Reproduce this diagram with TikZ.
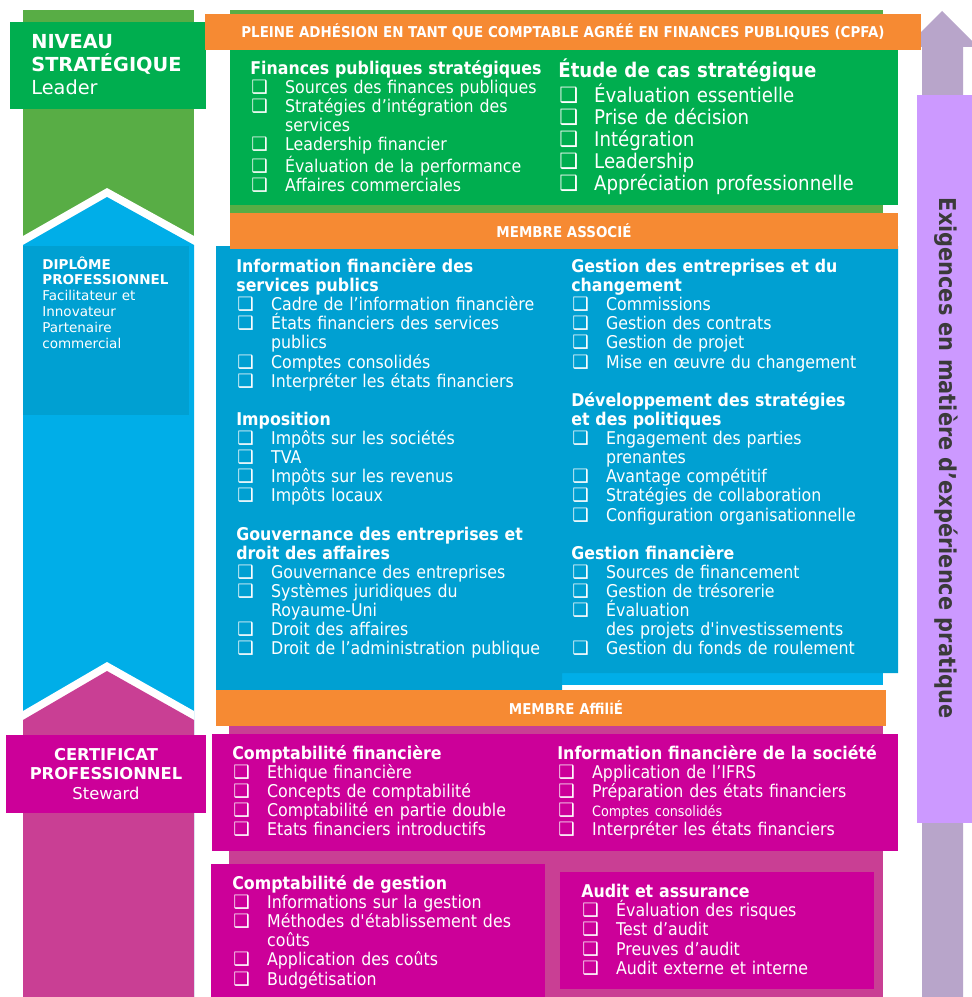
\documentclass[tikz,border=0pt]{standalone}
\usepackage{fontspec}
\setmainfont[FakeStretch=0.9]{DejaVu Sans}
\newfontfamily\vfont{DejaVu Sans}
\newfontfamily\symfont{DejaVu Sans}
\usetikzlibrary{positioning}

\definecolor{cpfaorange}{HTML}{F68A33}
\definecolor{nivgreen}{HTML}{00AE4F}
\definecolor{ribgreen}{HTML}{58AD45}
\definecolor{panblue}{HTML}{00A0D2}
\definecolor{ribblue}{HTML}{00AEE8}
\definecolor{ribmag}{HTML}{C93F94}
\definecolor{panmag}{HTML}{CC0099}
\definecolor{arrowlav}{HTML}{B8A5CA}
\definecolor{expurple}{HTML}{CC99FF}
\definecolor{exgray}{HTML}{3A3A3A}

\newlength\itind
\setlength\itind{19.8pt}
\newcommand\chksize{10.5pt}
\newcommand\chk{{\symfont\fontsize{\chksize}{\chksize}\selectfont ❑}}
\newcommand\hd[1]{{\bfseries #1}\par}
\newcommand\itm[1]{\hangindent=\itind\hangafter=1\makebox[\itind][l]{\hspace{0.6pt}\chk}#1\par}
\newcommand\gap{\vspace{\baselineskip}}

\begin{document}
\begin{tikzpicture}[x=0.02cm,y=-0.02cm,
    col/.style={anchor=base west,inner sep=0pt,text=white,text width=200pt,align=left,
                font=\fontsize{10}{10.88}\selectfont},
    bigcol/.style={col,font=\fontsize{11.5}{12.6}\selectfont\renewcommand\chksize{12pt}\setlength\itind{20.4pt}},
    bar/.style={inner sep=0pt,text=white,font=\bfseries\fontsize{8.5}{10}\selectfont},
    lvl/.style={anchor=base west,inner sep=0pt,text=white,text width=170pt,align=left}]
    \useasboundingbox (0,0) rectangle (971,997);
    \fill[white] (0,0) rectangle (971,997);

    \fill[ribgreen] (23,10) rectangle (194,250);
    \fill[white] (23,236) -- (107,188) -- (194,236) -- (194,997) -- (23,997) -- cycle;
    \fill[ribblue] (23,245) -- (107,197) -- (194,245) -- (194,997) -- (23,997) -- cycle;
    \fill[white] (23,711) -- (107,662) -- (194,711) -- (194,997) -- (23,997) -- cycle;
    \fill[ribmag] (23,720) -- (107,671) -- (194,720) -- (194,997) -- (23,997) -- cycle;
    \fill[nivgreen] (10,22) rectangle (206,109);
    \fill[panblue] (23,246) rectangle (189,415);
    \fill[panmag] (6,735) rectangle (206,813);

    \fill[arrowlav] (922,997) -- (922,47) -- (906,47) -- (942,11) -- (978,47) -- (963,47) -- (963,997) -- cycle;
    \fill[expurple] (917,95) rectangle (975,823);

    \fill[ribgreen] (230,10) rectangle (883,213);
    \fill[ribblue] (562,672) rectangle (883,685);
    \fill[panblue] (216,246) -- (898,246) -- (898,673) -- (562,673) -- (562,690) -- (216,690) -- cycle;
    \fill[ribmag] (229,726) rectangle (883,997);
    \fill[nivgreen] (230,49) rectangle (898,205);
    \fill[cpfaorange] (205,14) rectangle (921,50);
    \fill[cpfaorange] (230,213) rectangle (898,249);
    \fill[cpfaorange] (216,690) rectangle (886,726);
    \fill[panmag] (212,734) rectangle (898,851);
    \fill[panmag] (211,864) rectangle (545,997);
    \fill[panmag] (560,872) rectangle (874,989);

    \node[lvl,font=\vfont\fontsize{11}{13}\selectfont] (niveau) at (31,49)
      {\textbf{NIVEAU}\\\textbf{STRATÉGIQUE}\\Leader};
    \node[lvl,font=\vfont\fontsize{7.7}{9.07}\selectfont] (diplome) at (42,269)
      {\textbf{DIPLÔME}\\\textbf{PROFESSIONNEL}\\Facilitateur et\\Innovateur\\Partenaire\\commercial};
    \node[lvl,anchor=base,text width=113pt,align=center,font=\vfont\fontsize{9.3}{11.3}\selectfont] (certif) at (106,760)
      {\textbf{CERTIFICAT}\\\textbf{PROFESSIONNEL}\\Steward};

    \node[bar] (cpfa) at (563,32) {PLEINE ADHÉSION EN TANT QUE COMPTABLE AGRÉÉ EN FINANCES PUBLIQUES (CPFA)};
    \node[bar] (associe) at (564,231) {MEMBRE ASSOCIÉ};
    \node[bar] (affilie) at (566,708) {MEMBRE AffiliÉ};

    \node[col] (finpub) at (250,74.5) {\hd{Finances publiques stratégiques}
      \itm{Sources des finances publiques}
      \itm{Stratégies d’intégration des\newline services}
      \itm{Leadership financier}
      \itm{Évaluation de la performance}
      \itm{Affaires commerciales}};
    \node[bigcol] (etude) at (558,77.5) {\hd{Étude de cas stratégique}
      \itm{Évaluation essentielle}
      \itm{Prise de décision}
      \itm{Intégration}
      \itm{Leadership}
      \itm{Appréciation professionnelle}};

    \node[col] (infofin) at (236,272.5) {\hd{Information financière des\newline services publics}
      \itm{Cadre de l’information financière}
      \itm{États financiers des services\newline publics}
      \itm{Comptes consolidés}
      \itm{Interpréter les états financiers}
      \gap
      \hd{Imposition}
      \itm{Impôts sur les sociétés}
      \itm{TVA}
      \itm{Impôts sur les revenus}
      \itm{Impôts locaux}
      \gap
      \hd{Gouvernance des entreprises et\newline droit des affaires}
      \itm{Gouvernance des entreprises}
      \itm{Systèmes juridiques du\newline Royaume-Uni}
      \itm{Droit des affaires}
      \itm{Droit de l’administration publique}};
    \node[col] (gestent) at (571,272.5) {\hd{Gestion des entreprises et du\newline changement}
      \itm{Commissions}
      \itm{Gestion des contrats}
      \itm{Gestion de projet}
      \itm{Mise en œuvre du changement}
      \gap
      \hd{Développement des stratégies\newline et des politiques}
      \itm{Engagement des parties\newline prenantes}
      \itm{Avantage compétitif}
      \itm{Stratégies de collaboration}
      \itm{Configuration organisationnelle}
      \gap
      \hd{Gestion financière}
      \itm{Sources de financement}
      \itm{Gestion de trésorerie}
      \itm{Évaluation\newline des projets d\textquotesingle investissements}
      \itm{Gestion du fonds de roulement}};

    \node[col] (comptafin) at (232,759.5) {\hd{Comptabilité financière}
      \itm{Ethique financière}
      \itm{Concepts de comptabilité}
      \itm{Comptabilité en partie double}
      \itm{Etats financiers introductifs}};
    \node[col] (infosoc) at (557,759.5) {\hd{Information financière de la société}
      \itm{Application de l’IFRS}
      \itm{Préparation des états financiers}
      \itm{{\fontsize{8.1}{10.88}\selectfont Comptes consolidés}}
      \itm{Interpréter les états financiers}};
    \node[col] (comptages) at (232,889.5) {\hd{Comptabilité de gestion}
      \itm{Informations sur la gestion}
      \itm{Méthodes d\textquotesingle établissement des\newline coûts}
      \itm{Application des coûts}
      \itm{Budgétisation}};
    \node[col] (audit) at (581,897.7) {\hd{Audit et assurance}
      \itm{Évaluation des risques}
      \itm{Test d’audit}
      \itm{Preuves d’audit}
      \itm{Audit externe et interne}};

    \node[rotate=-90,inner sep=0pt,text=exgray,font=\bfseries\fontsize{13.2}{15}\selectfont] (exig) at (946,458)
      {Exigences en matière d’expérience pratique};
\end{tikzpicture}
\end{document}
